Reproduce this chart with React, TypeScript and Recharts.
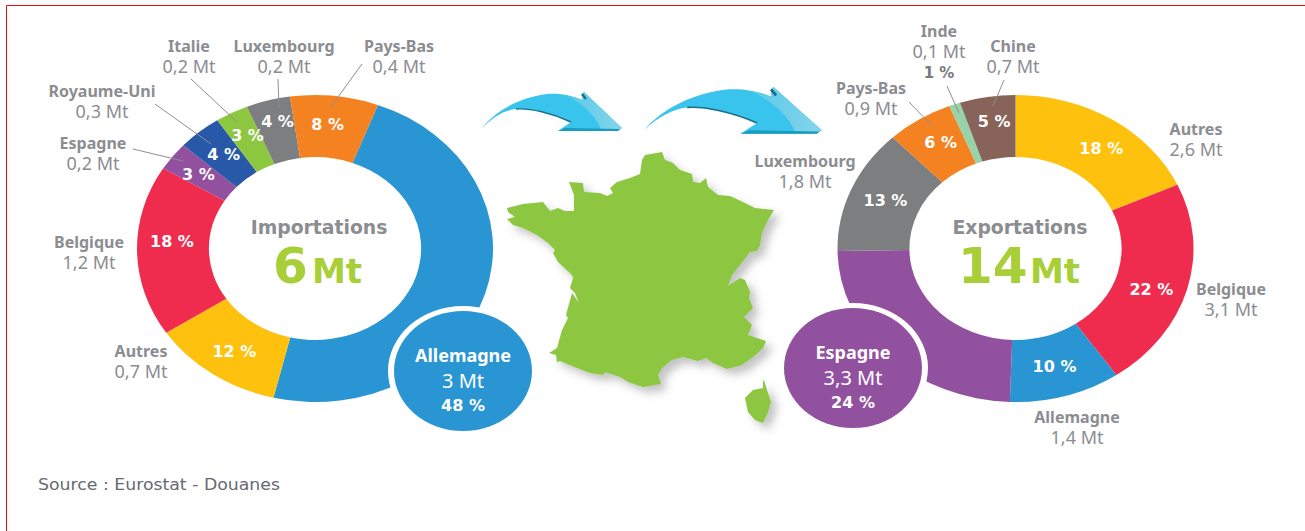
import { PieChart, Pie, Cell } from "recharts";

const IMPORT_NAMES = ["Allemagne", "Autres", "Belgique", "Espagne", "Royaume-Uni", "Italie", "Luxembourg", "Pays-Bas"];
const IMPORT_PCT = [48, 12, 18, 3, 4, 3, 4, 8];
const IMPORT_MT = ["3 Mt", "0,7 Mt", "1,2 Mt", "0,2 Mt", "0,3 Mt", "0,2 Mt", "0,2 Mt", "0,4 Mt"];

const EXPORT_NAMES = ["Autres", "Belgique", "Allemagne", "Espagne", "Luxembourg", "Pays-Bas", "Inde", "Chine"];
const EXPORT_PCT = [18, 22, 10, 24, 13, 6, 1, 5];
const EXPORT_MT = ["2,6 Mt", "3,1 Mt", "1,4 Mt", "3,3 Mt", "1,8 Mt", "0,9 Mt", "0,1 Mt", "0,7 Mt"];

const COUNTRY_COLORS: Record<string, string> = {
  Allemagne: "#2a95d3",
  Autres: "#fec10d",
  Belgique: "#f02c4e",
  Espagne: "#92519f",
  "Royaume-Uni": "#2858a8",
  Italie: "#8dc63f",
  Luxembourg: "#7d7e80",
  "Pays-Bas": "#f58220",
  Inde: "#98d2a8",
  Chine: "#87635a",
};

const importData = IMPORT_NAMES.map((name, i) => ({ name, value: IMPORT_PCT[i], mt: IMPORT_MT[i] }));
const exportData = EXPORT_NAMES.map((name, i) => ({ name, value: EXPORT_PCT[i], mt: EXPORT_MT[i] }));

// the whole picture is stretched, the donuts are ellipses
const STRETCH = 178 / 153.5;
const GREY = "#8b8d91";
const NAME_FONT = "'Noto Sans', sans-serif";
const NUM_FONT = "'DejaVu Sans', sans-serif";

function ellipticalSector(props: any) {
  const { cx, cy, innerRadius, outerRadius, startAngle, endAngle, fill } = props;
  const rad = Math.PI / 180;
  const pt = (r: number, a: number) => [cx + r * STRETCH * Math.cos(a * rad), cy - r * Math.sin(a * rad)];
  const [x1, y1] = pt(outerRadius, startAngle);
  const [x2, y2] = pt(outerRadius, endAngle);
  const [x3, y3] = pt(innerRadius, endAngle);
  const [x4, y4] = pt(innerRadius, startAngle);
  const large = Math.abs(startAngle - endAngle) > 180 ? 1 : 0;
  const d = `M${x1},${y1} A${outerRadius * STRETCH},${outerRadius} 0 ${large} 1 ${x2},${y2} L${x3},${y3} A${innerRadius * STRETCH},${innerRadius} 0 ${large} 0 ${x4},${y4} Z`;
  return <path d={d} fill={fill} stroke="none" />;
}

// small shifts of the % labels from the middle of their ring
const IMPORT_NUDGE: Record<string, number[]> = {
  Autres: [1, 3],
  Belgique: [-1, -9],
  Espagne: [-3, 0],
  "Royaume-Uni": [1, -1],
  Italie: [-1, -5],
  Luxembourg: [0, -9],
  "Pays-Bas": [-3, -2],
};
const EXPORT_NUDGE: Record<string, number[]> = {
  Autres: [9, 3],
  Belgique: [-1, 8],
  Allemagne: [-1, 0],
  Luxembourg: [1, -1],
  "Pays-Bas": [2, -3],
  Chine: [1, -6],
};

function pctLabel(nudges: Record<string, number[]>) {
  return (props: any) => {
    const { cx, cy, midAngle, innerRadius, outerRadius, name, value } = props;
    const nudge = nudges[name];
    if (!nudge) return null;
    const r = (innerRadius + outerRadius) / 2;
    const a = (midAngle * Math.PI) / 180;
    return (
      <text
        x={cx + r * STRETCH * Math.cos(a) + nudge[0]}
        y={cy - r * Math.sin(a) + nudge[1]}
        textAnchor="middle"
        dominantBaseline="central"
        fill="#fff"
        fontFamily={NUM_FONT}
        fontWeight={700}
        fontSize={16}
      >
        {value} %
      </text>
    );
  };
}

// callout text around the donuts
const IMPORT_CALLOUTS = [
  { name: "Italie", x: 189, y: 46 },
  { name: "Luxembourg", x: 284, y: 46 },
  { name: "Pays-Bas", x: 399, y: 46 },
  { name: "Royaume-Uni", x: 102, y: 91 },
  { name: "Espagne", x: 93, y: 143 },
  { name: "Belgique", x: 89, y: 242 },
  { name: "Autres", x: 141, y: 351 },
];
const EXPORT_CALLOUTS = [
  { name: "Inde", x: 939, y: 31, pct: EXPORT_PCT[6] },
  { name: "Chine", x: 1013, y: 46 },
  { name: "Pays-Bas", x: 871, y: 88 },
  { name: "Luxembourg", x: 805, y: 161 },
  { name: "Autres", x: 1196, y: 129 },
  { name: "Belgique", x: 1231, y: 289 },
  { name: "Allemagne", x: 1077, y: 417 },
];
const LEADERS = [
  [191, 79, 238, 123],
  [278, 79, 279, 108],
  [362, 64, 330, 108],
  [155, 104, 211, 144],
  [133, 149, 183, 161],
  [947, 86, 959, 113],
  [1004, 80, 993, 106],
  [909, 102, 933, 127],
];

// outlines, page pixels
const FRANCE =
  "M630,178 L640,174 L642,160 L645,155 L662,152 L665,160 L673,163 L680,170 L692,174 L693,182 L700,183 L706,178 L708,187 L718,195 L730,196 L743,202 L755,208 L774,210 L768,220 L762,233 L760,245 L757,251 L750,252 L740,265 L732,275 L728,286 L740,278 L745,280 L750,292 L749,298 L753,308 L744,317 L752,325 L748,335 L766,341 L763,348 L753,357 L742,365 L727,369 L713,363 L706,358 L698,361 L683,357 L672,360 L662,368 L658,375 L661,384 L643,387 L628,382 L620,377 L605,372 L603,375 L590,373 L577,368 L560,361 L557,362 L556,355 L549,353 L557,348 L562,330 L568,318 L566,315 L572,293 L579,303 L575,293 L570,288 L573,278 L572,275 L558,262 L553,253 L555,250 L548,243 L537,235 L523,228 L513,225 L507,219 L515,217 L508,212 L507,208 L523,204 L543,202 L550,211 L558,208 L565,211 L574,211 L574,195 L569,182 L583,183 L584,192 L600,193 L607,196 L613,193 L610,188 L617,182 Z";
const CORSICA = "M764,380 L767,390 L771,402 L768,412 L763,423 L755,420 L748,412 L745,398 L753,390 L763,388 L763,381 Z";
const ARROW = "M482,128 C498,108 523,97 547,94 C562,93 572,96 582,100 L582,94 L584,92 L622,128 L618,131 L558,131 L571,122 C552,113 530,108 516,109 C505,110 493,117 482,128 Z";
const ARROW_LIGHT = "M567,96 C572,96 578,98 582,100 L582,94 L584,92 L622,128 L618,130 L601,129 C595,115 582,103 567,96 Z";
const ARROW_UNDER = "M516,109 C530,108 552,113 571,122";
const ARROW_BASE = "M558,131 L618,131 L620,129 L565,128 Z";
const ARROW_SLOT = "M582,94 L586,99";
const SECOND_ARROW = "translate(644,87) scale(1.27,1.2) translate(-482,-92)";

function Arrow({ transform }: { transform?: string }) {
  return (
    <g transform={transform}>
      <path d={ARROW} fill="#38c4ec" />
      <path d={ARROW_LIGHT} fill="url(#arrowFill)" />
      <path d={ARROW_UNDER} fill="none" stroke="#176f8b" strokeWidth={1.4} />
      <path d={ARROW_BASE} fill="#1a9cc0" />
      <path d={ARROW_SLOT} stroke="#146d88" strokeWidth={2.2} />
    </g>
  );
}

function Callout({ item, mt }: { item: { name: string; x: number; y: number; pct?: number }; mt?: string }) {
  return (
    <text textAnchor="middle" fill={GREY} fontFamily={NAME_FONT}>
      <tspan x={item.x} y={item.y + 6} fontWeight={700} fontSize={16}>
        {item.name}
      </tspan>
      <tspan x={item.x} y={item.y + 27} fontSize={18}>
        {mt}
      </tspan>
      {item.pct != null && (
        <tspan x={item.x} y={item.y + 47} fill="#77797c" fontFamily={NUM_FONT} fontWeight={700} fontSize={15}>
          {item.pct} %
        </tspan>
      )}
    </text>
  );
}

function Bubble({ cx, cy, color, name, mt, pct }: any) {
  return (
    <g>
      <ellipse cx={cx} cy={cy} rx={75} ry={65} fill="#fff" />
      <ellipse cx={cx} cy={cy} rx={69} ry={60} fill={color} />
      <text textAnchor="middle" fill="#fff" fontFamily={NAME_FONT}>
        <tspan x={cx} y={cy - 9} fontWeight={700} fontSize={18}>
          {name}
        </tspan>
        <tspan x={cx} y={cy + 17} fontSize={20}>
          {mt}
        </tspan>
        <tspan x={cx} y={cy + 40} fontFamily={NUM_FONT} fontWeight={700} fontSize={16}>
          {pct} %
        </tspan>
      </text>
    </g>
  );
}

function CenterText({ cx, title, big, bigX, unitX }: any) {
  return (
    <g>
      <text x={cx} y={234} textAnchor="middle" fill={GREY} fontFamily={NUM_FONT} fontWeight={700} fontSize={18.8}>
        {title}
      </text>
      <text fill="#a8cf38" fontFamily={NUM_FONT} fontWeight={700}>
        <tspan x={bigX} y={283} fontSize={50}>
          {big}
        </tspan>
        <tspan x={unitX} y={283} fontSize={34}>
          Mt
        </tspan>
      </text>
    </g>
  );
}

const mtOf = (data: { name: string; mt: string }[], name: string) => data.find((d) => d.name === name)?.mt;

export default function App() {
  return (
    <div style={{ position: "absolute", left: 0, top: 0, width: 1305, height: 531, background: "#fff", overflow: "hidden" }}>
      <PieChart width={1305} height={531} margin={{ top: 0, right: 0, bottom: 0, left: 0 }}>
        <Pie
          data={importData}
          dataKey="value"
          nameKey="name"
          cx={315}
          cy={248.5}
          innerRadius={91.5}
          outerRadius={153.5}
          startAngle={69.3}
          endAngle={-290.7}
          stroke="none"
          shape={ellipticalSector}
          label={pctLabel(IMPORT_NUDGE)}
          labelLine={false}
          isAnimationActive={false}
        >
          {importData.map((d) => (
            <Cell key={d.name} fill={COUNTRY_COLORS[d.name]} />
          ))}
        </Pie>
        <Pie
          data={exportData}
          dataKey="value"
          nameKey="name"
          cx={1015.5}
          cy={248.5}
          innerRadius={91.5}
          outerRadius={153.5}
          startAngle={90}
          endAngle={-270}
          stroke="none"
          shape={ellipticalSector}
          label={pctLabel(EXPORT_NUDGE)}
          labelLine={false}
          isAnimationActive={false}
        >
          {exportData.map((d) => (
            <Cell key={d.name} fill={COUNTRY_COLORS[d.name]} />
          ))}
        </Pie>
      </PieChart>

      <svg width={1305} height={531} style={{ position: "absolute", left: 0, top: 0 }}>
        <defs>
          <filter id="soft" x="-40%" y="-40%" width="190%" height="190%">
            <feDropShadow dx={6} dy={6} stdDeviation={4} floodColor="#555" floodOpacity={0.35} />
          </filter>
          <linearGradient id="arrowFill" x1="0" y1="0" x2="1" y2="0">
            <stop offset="0%" stopColor="#5cc9ea" />
            <stop offset="100%" stopColor="#85d4ea" />
          </linearGradient>
        </defs>

        <path d={FRANCE} fill="#8dc63f" filter="url(#soft)" />
        <path d={CORSICA} fill="#8dc63f" filter="url(#soft)" />
        <Arrow />
        <Arrow transform={SECOND_ARROW} />

        {LEADERS.map(([x1, y1, x2, y2], i) => (
          <line key={i} x1={x1} y1={y1} x2={x2} y2={y2} stroke="#8f8f8f" strokeWidth={1} />
        ))}

        {IMPORT_CALLOUTS.map((c) => (
          <Callout key={c.name} item={c} mt={mtOf(importData, c.name)} />
        ))}
        {EXPORT_CALLOUTS.map((c) => (
          <Callout key={c.name} item={c} mt={mtOf(exportData, c.name)} />
        ))}

        <Bubble cx={463} cy={371} color={COUNTRY_COLORS.Allemagne} name="Allemagne" mt={IMPORT_MT[0]} pct={IMPORT_PCT[0]} />
        <Bubble cx={853} cy={368} color={COUNTRY_COLORS.Espagne} name="Espagne" mt={EXPORT_MT[3]} pct={EXPORT_PCT[3]} />

        <CenterText cx={319} title="Importations" big="6" bigX={273} unitX={312} />
        <CenterText cx={1020} title="Exportations" big="14" bigX={958} unitX={1030} />

        <text x={38} y={490} fill="#666a70" fontFamily={NUM_FONT} fontSize={15} textLength={242} lengthAdjust="spacingAndGlyphs">
          Source : Eurostat - Douanes
        </text>

        <path d="M6.5,531 L6.5,5.5 L1305,5.5" fill="none" stroke="#e01010" strokeWidth={1} />
      </svg>
    </div>
  );
}
